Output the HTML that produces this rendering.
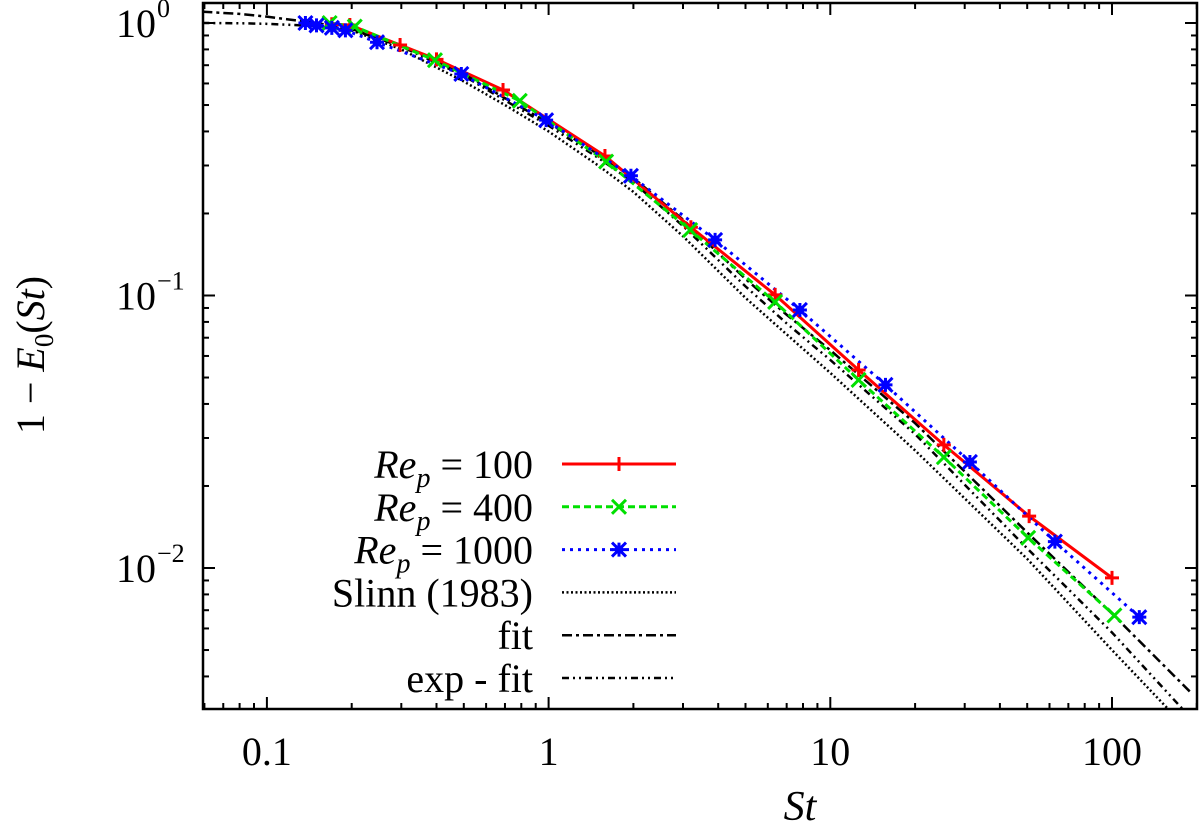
<!DOCTYPE html>
<html><head><meta charset="utf-8"><style>
body{margin:0;background:#fff}
svg text{font-family:"Liberation Serif",serif;fill:#000}
</style></head><body>
<svg id="c" width="1200" height="827" xmlns="http://www.w3.org/2000/svg"></svg>
<script>
const xTicks=[0.1,1,10,100];
const xTickLabels=["0.1","1","10","100"];
const yTicks=[0.01,0.1,1];
const yTickExp=["−2","−1","0"];
const re100X=[0.17,0.197,0.297,0.4,0.689,1.585,3.2,6.37,12.6,25.3,50.8,100];
const re100Y=[0.99,0.983,0.83,0.735,0.568,0.325,0.178,0.1005,0.0533,0.0283,0.0155,0.0092];
const re400X=[0.167,0.205,0.395,0.79,1.6,3.18,6.37,12.6,25.3,50.4,102];
const re400Y=[1.0,0.97,0.73,0.518,0.31,0.174,0.0947,0.049,0.0255,0.0129,0.0067];
const re1000X=[0.137,0.15,0.17,0.19,0.246,0.49,0.98,1.96,3.9,7.8,15.7,31.3,62.7,125];
const re1000Y=[1.0,0.98,0.96,0.94,0.85,0.65,0.44,0.275,0.16,0.0885,0.047,0.0245,0.0125,0.0066];
const slinnX=[0.2,0.3,0.5,0.7,1,1.5,2,3,5,7,10,20,50,100,160];
const slinnY=[0.94,0.80,0.61,0.50,0.40,0.30,0.24,0.165,0.098,0.072,0.052,0.027,0.0108,0.005,0.003];
const fitX=[0.059,0.08,0.1,0.15,0.2,0.3,0.5,0.7,1,1.5,2,3,5,7,10,20,50,100,190];
const fitY=[1.1,1.08,1.055,1.0,0.95,0.83,0.65,0.53,0.43,0.33,0.27,0.19,0.115,0.085,0.063,0.034,0.0135,0.0068,0.0035];
const expX=[0.059,0.08,0.1,0.15,0.2,0.3,0.5,0.7,1,1.5,2,3,5,7,10,20,50,100,180];
const expY=[1.0,0.998,0.993,0.975,0.945,0.82,0.64,0.52,0.42,0.32,0.26,0.18,0.108,0.079,0.058,0.031,0.0118,0.0058,0.003];

const L=203,R=1197,T=3,B=709;
const X0=548.6,XD=281.7,Y0=23,YD=272.5;
function xs(v){return X0+XD*Math.log10(v);}
function ys(v){return Y0-YD*Math.log10(v);}
const svg=document.getElementById('c');
const NS='http://www.w3.org/2000/svg';
function mk(tag,attrs,parent){const e=document.createElementNS(NS,tag);for(const k in attrs)e.setAttribute(k,attrs[k]);(parent||svg).appendChild(e);return e;}

const clip=mk('clipPath',{id:'pc'});mk('rect',{x:L,y:T,width:R-L,height:B-T},clip);

const tg=mk('g',{stroke:'#000','stroke-width':2});


for(let d=-2;d<=2;d++){for(let m=1;m<10;m++){const v=m*Math.pow(10,d);const x=xs(v);if(x<L||x>R)continue;const len=m==1?12:6;
mk('line',{x1:x,y1:B,x2:x,y2:B-len},tg);mk('line',{x1:x,y1:T,x2:x,y2:T+len},tg);}}
for(let d=-3;d<=0;d++){for(let m=1;m<10;m++){const v=m*Math.pow(10,d);const y=ys(v);if(y<T||y>B)continue;const len=m==1?12:6;
mk('line',{x1:L,y1:y,x2:L+len,y2:y},tg);mk('line',{x1:R,y1:y,x2:R-len,y2:y},tg);}}

xTicks.forEach((v,i)=>{const t=mk('text',{x:xs(v),y:765,'font-size':40,'text-anchor':'middle'});t.textContent=xTickLabels[i];

});
yTicks.forEach((v,i)=>{const t=mk('text',{x:156,y:ys(v)+14,'font-size':40,'text-anchor':'end'});t.textContent='10';


const s=mk('text',{x:157,y:ys(v)-6,'font-size':26,'text-anchor':'start'});s.textContent=yTickExp[i];

});

const plot=mk('g',{'clip-path':'url(#pc)',fill:'none'});


function line(X,Y,st,name){const p=mk('polyline',Object.assign({points:X.map((x,i)=>xs(x)+','+ys(Y[i])).join(' '),fill:'none'},st),plot);

}
function marker(type,x,y,col,g){const s=7;
if(type=='+'){mk('path',{d:`M${x-s} ${y}H${x+s}M${x} ${y-s}V${y+s}`,stroke:col,'stroke-width':3},g);}
else if(type=='x'){mk('path',{d:`M${x-s} ${y-s}L${x+s} ${y+s}M${x-s} ${y+s}L${x+s} ${y-s}`,stroke:col,'stroke-width':3},g);}
else{mk('path',{d:`M${x-s} ${y-s}L${x+s} ${y+s}M${x-s} ${y+s}L${x+s} ${y-s}M${x-s} ${y}H${x+s}M${x} ${y-s}V${y+s}`,stroke:col,'stroke-width':3},g);mk('rect',{x:x-4,y:y-4,width:8,height:8,fill:col},g);}}
line(slinnX,slinnY,{stroke:'#000','stroke-width':2.5,'stroke-dasharray':'2,2.5'},'slinn-curve');
line(expX,expY,{stroke:'#000','stroke-width':2.5,'stroke-dasharray':'7,4,2,4,2,4'},'exp-fit-curve');
line(fitX,fitY,{stroke:'#000','stroke-width':2.5,'stroke-dasharray':'10,4,3,4'},'fit-curve');
line(re100X,re100Y,{stroke:'#ff0000','stroke-width':3},'re100-line');
line(re400X,re400Y,{stroke:'#00e000','stroke-width':3,'stroke-dasharray':'7,4'},'re400-line');
line(re1000X,re1000Y,{stroke:'#0000ff','stroke-width':3,'stroke-dasharray':'3,5'},'re1000-line');
function pts(X,Y,type,col,name){const g=mk('g',{},plot);
X.forEach((x,i)=>{marker(type,xs(x),ys(Y[i]),col,g);});}
pts(re100X,re100Y,'+','#ff0000','re100-markers');
pts(re400X,re400Y,'x','#00e000','re400-markers');
pts(re1000X,re1000Y,'*','#0000ff','re1000-markers');

const lg=mk('g',{});


const rows=[
 {t:'<tspan font-style="italic">Re</tspan><tspan font-style="italic" font-size="28" dy="9">p</tspan><tspan dy="-9"> = 100</tspan>',st:{stroke:'#ff0000','stroke-width':3},m:'+',c:'#ff0000'},
 {t:'<tspan font-style="italic">Re</tspan><tspan font-style="italic" font-size="28" dy="9">p</tspan><tspan dy="-9"> = 400</tspan>',st:{stroke:'#00e000','stroke-width':3,'stroke-dasharray':'7,4'},m:'x',c:'#00e000'},
 {t:'<tspan font-style="italic">Re</tspan><tspan font-style="italic" font-size="28" dy="9">p</tspan><tspan dy="-9"> = 1000</tspan>',st:{stroke:'#0000ff','stroke-width':3,'stroke-dasharray':'3,5'},m:'*',c:'#0000ff'},
 {t:'Slinn (1983)',st:{stroke:'#000','stroke-width':2.5,'stroke-dasharray':'2,2.5'}},
 {t:'fit',st:{stroke:'#000','stroke-width':2.5,'stroke-dasharray':'10,4,3,4'}},
 {t:'exp - fit',st:{stroke:'#000','stroke-width':2.5,'stroke-dasharray':'7,4,2,4,2,4'}}];
rows.forEach((r,i)=>{const y=464+42.8*i;
const t=mk('text',{x:533,y:y+14,'font-size':40,'text-anchor':'end'},lg);t.innerHTML=r.t;


const l=mk('line',Object.assign({x1:562,y1:y,x2:676,y2:y},r.st),lg);


if(r.m)marker(r.m,619,y,r.c,lg);});

mk('rect',{x:L,y:T,width:R-L,height:B-T,fill:'none',stroke:'#000','stroke-width':2.5});
const xt=mk('text',{x:800,y:820,'font-size':42,'font-style':'italic','text-anchor':'middle'});xt.textContent='St';


const yt=mk('text',{x:0,y:0,'font-size':40,'text-anchor':'middle',transform:'translate(44,355) rotate(-90)'});
yt.innerHTML='1 − <tspan font-style="italic">E</tspan><tspan font-size="27" dy="9">0</tspan><tspan dy="-9">(</tspan><tspan font-style="italic">St</tspan>)';


</script>
</body></html>
